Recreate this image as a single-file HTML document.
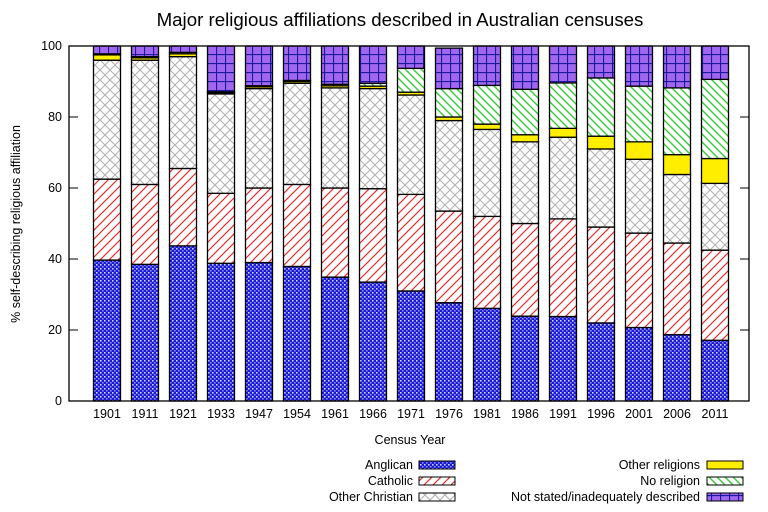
<!DOCTYPE html>
<html><head><meta charset="utf-8"><style>
body{margin:0;background:#fff}
svg{display:block;font-family:"Liberation Sans",sans-serif}
</style></head><body>
<svg width="768" height="512" viewBox="0 0 768 512" xmlns="http://www.w3.org/2000/svg">
<defs>
<pattern id="pA" width="4" height="4" patternUnits="userSpaceOnUse">
<rect width="4" height="4" fill="#1a1ad8"/><rect x="0" y="0" width="1.6" height="1.6" fill="#ffffff" opacity="0.8"/><rect x="2" y="2" width="1.6" height="1.6" fill="#ffffff" opacity="0.5"/>
</pattern>
<pattern id="pC" width="9" height="9" patternUnits="userSpaceOnUse">
<rect width="9" height="9" fill="#fff"/><path d="M-1,10 L10,-1 M-3,3 L3,-3 M6,12 L12,6" stroke="#e03030" stroke-width="1.2"/>
</pattern>
<pattern id="pO" width="10" height="10" patternUnits="userSpaceOnUse">
<rect width="10" height="10" fill="#fff"/><path d="M0,0 L10,10 M10,0 L0,10" stroke="#b0b0b0" stroke-width="1"/>
</pattern>
<pattern id="pN" width="8" height="8" patternUnits="userSpaceOnUse">
<rect width="8" height="8" fill="#fff"/><path d="M-1,-1 L9,9 M-3,5 L3,11 M5,-3 L11,3" stroke="#33cc33" stroke-width="1.4"/>
</pattern>
<pattern id="pS" width="9" height="9" patternUnits="userSpaceOnUse">
<rect width="9" height="9" fill="#a066ee"/><path d="M0,0.5 H9 M0.5,0 V9" stroke="#1a1aa0" stroke-width="1.2"/>
</pattern>
</defs>
<text x="400" y="26" font-size="18.7" text-anchor="middle">Major religious affiliations described in Australian censuses</text>
<g id="bars" stroke="#000" stroke-width="1.3"></g>
<rect x="69" y="46" width="680" height="355" fill="none" stroke="#000" stroke-width="1.3"/>
<g font-size="12.5" text-anchor="end" id="yt"></g>
<g font-size="12.5" text-anchor="middle" id="xt"></g>
<text x="410" y="444" font-size="12.5" text-anchor="middle">Census Year</text>
<text transform="translate(20,224) rotate(-90)" font-size="12.5" text-anchor="middle">% self-describing religious affiliation</text>
<g font-size="12.5" text-anchor="end">
<text x="413" y="469">Anglican</text>
<text x="413" y="485">Catholic</text>
<text x="413" y="501">Other Christian</text>
<text x="700" y="469">Other religions</text>
<text x="700" y="485">No religion</text>
<text x="700" y="501">Not stated/inadequately described</text>
</g>
<g stroke="#000" stroke-width="1">
<rect x="419" y="461" width="36" height="8" fill="url(#pA)"/>
<rect x="419" y="477" width="36" height="8" fill="url(#pC)"/>
<rect x="419" y="493" width="36" height="8" fill="url(#pO)"/>
<rect x="707" y="461" width="36" height="8" fill="#ffee00"/>
<rect x="707" y="477" width="36" height="8" fill="url(#pN)"/>
<rect x="707" y="493" width="36" height="8" fill="url(#pS)"/>
</g>
</svg>
<script>
const d=[
["1901",39.7,62.5,96,97.5,97.8,100],
["1911",38.5,61,96,96.7,97,100],
["1921",43.7,65.5,97,97.8,98.2,100],
["1933",38.8,58.5,86.5,86.8,87.1,100],
["1947",39,60,88,88.5,88.8,100],
["1954",37.9,61,89.5,90,90.3,100],
["1961",34.9,60,88.2,88.8,89.2,100],
["1966",33.5,59.8,88,88.7,89.5,100],
["1971",31,58.2,86.2,87,93.7,100],
["1976",27.7,53.5,79,80,88,99.4],
["1981",26.1,52,76.5,78,88.9,100],
["1986",23.9,50,73,75,87.8,100],
["1991",23.8,51.3,74.3,76.8,89.6,100],
["1996",22,49,71,74.6,91,100],
["2001",20.7,47.3,68.1,73,88.7,100],
["2006",18.7,44.5,63.8,69.4,88.2,100],
["2011",17.1,42.5,61.3,68.3,90.6,100]];
const fills=["url(#pA)","url(#pC)","url(#pO)","#ffee00","url(#pN)","url(#pS)"];
const Y=v=>401-v*3.55;
const ns="http://www.w3.org/2000/svg";
const g=document.getElementById("bars"),xt=document.getElementById("xt"),yt=document.getElementById("yt");
d.forEach((r,i)=>{const cx=107+i*38;let prev=0;
for(let k=0;k<6;k++){const v=r[k+1];const e=document.createElementNS(ns,"rect");
e.setAttribute("x",cx-13.5);e.setAttribute("width",27);e.setAttribute("y",Y(v));e.setAttribute("height",Math.max(0,Y(prev)-Y(v)));e.setAttribute("fill",fills[k]);g.appendChild(e);prev=v;}
const t=document.createElementNS(ns,"text");t.setAttribute("x",cx);t.setAttribute("y",418);t.textContent=r[0];xt.appendChild(t);});
for(let v=0;v<=100;v+=20){const t=document.createElementNS(ns,"text");t.setAttribute("x",62);t.setAttribute("y",Y(v)+4);t.textContent=v;yt.appendChild(t);
[[69,78],[740,749]].forEach(([a,b])=>{const l=document.createElementNS(ns,"line");l.setAttribute("x1",a);l.setAttribute("x2",b);l.setAttribute("y1",Y(v));l.setAttribute("y2",Y(v));l.setAttribute("stroke","#000");yt.appendChild(l);});}
</script>
</body></html>
